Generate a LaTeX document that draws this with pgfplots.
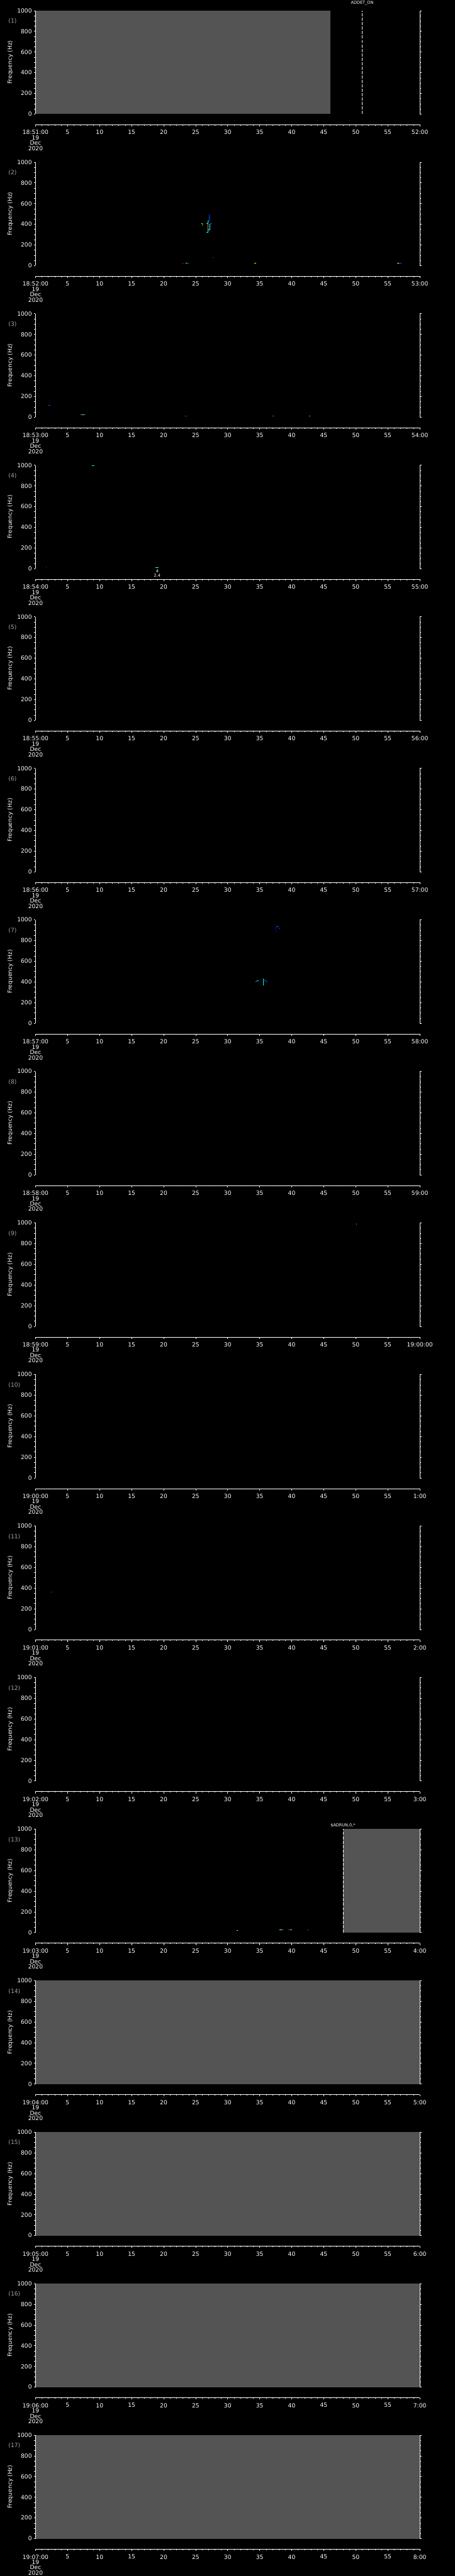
\documentclass[border=0pt]{standalone}
\usepackage{pgfplots}
\pgfplotsset{compat=1.18}
\usepackage{fontspec}
\setmainfont{DejaVu Sans}
\definecolor{sgrey}{RGB}{84,84,84}
\definecolor{lgrey}{RGB}{165,165,165}
\definecolor{jdb}{RGB}{0,0,200}
\definecolor{jb}{RGB}{0,90,255}
\definecolor{jlb}{RGB}{0,170,255}
\definecolor{jc}{RGB}{0,255,240}
\definecolor{jt}{RGB}{0,210,190}
\definecolor{jg}{RGB}{60,255,60}
\definecolor{jyg}{RGB}{200,255,60}
\definecolor{jy}{RGB}{255,240,0}
\definecolor{jo}{RGB}{255,120,0}
\definecolor{jr}{RGB}{230,20,0}
\definecolor{jdr}{RGB}{150,0,0}
\newcommand{\fs}{\fontsize{6.5pt}{6pt}\selectfont}
\newcommand{\sfs}{\fontsize{4.6pt}{5pt}\selectfont}
\pgfplotsset{
 specax/.style={scale only axis, width=432.5pt, height=116.5pt, anchor=north west,
   xmin=0,xmax=60,ymin=0,ymax=1000,
   axis x line=none, axis y line=box,
   axis line style={white, line width=0.5pt},
   xtick=\empty,
   ytick={0,200,400,600,800,1000}, yticklabels={0,200,400,600,800,1000},
   minor y tick num=3,
   tick align=outside, major tick length=1.75pt, minor tick length=1.5pt,
   tick style={white, line width=0.5pt},
   yticklabel pos=left,
   yticklabel style={text=white, font=\fs, inner sep=1pt, xshift=-1.2pt},
   clip mode=individual, axis on top,
 },
 timeax/.style={scale only axis, width=432.5pt, height=10pt, anchor=south west,
   xmin=0,xmax=60,ymin=0,ymax=1,
   axis x line*=bottom, hide y axis,
   axis line style={white, line width=0.5pt},
   xtick={0,5,...,60}, minor x tick num=4,
   tick align=outside, major tick length=2pt, minor tick length=1pt,
   tick style={white, line width=0.5pt},
   xticklabel style={text=white, font=\fs, align=center, inner sep=1pt, yshift=-3pt},
 },
 sp/.style={line width=0.6pt},
}
\newcommand{\timeaxis}[3]{%
 \begin{axis}[timeax, at={(40pt,-#1*170.647pt-140.5pt)},
   xticklabels={{#2\\19\\Dec\\2020},5,10,15,20,25,30,35,40,45,50,55,#3}]
 \end{axis}
 \node[anchor=west, text=lgrey, font=\fs] at (6pt,-#1*170.647pt-24pt) {(\the\numexpr#1+1\relax)};
 \node[rotate=90, text=white, font=\fs] at (11.5pt,-#1*170.647pt-70.25pt) {Frequency (Hz)};
}
\begin{document}
\begin{tikzpicture}
\path[use as bounding box, fill=black] (0,0) rectangle (512pt,-2901pt);
% ---- panel 1
\begin{axis}[specax, at={(40pt,-0*170.647pt-12pt)}]
\addplot[fill=sgrey, draw=none] coordinates {(0,1000) (46,1000)} \closedcycle;
\addplot[white, line width=0.5pt, dash pattern=on 3.5pt off 1.5pt] coordinates {(51,0) (51,1000)};
\node[text=white, font=\sfs] at ([yshift=8.8pt]axis cs:51,1000) {ADDET\_ON};
\end{axis}
\timeaxis{0}{18:51:00}{52:00}
% ---- panel 2
\begin{axis}[specax, at={(40pt,-1*170.647pt-12pt)}]
\addplot[jb, sp] coordinates {(27.15,436) (27.15,490)};
\addplot[jdb, sp] coordinates {(27.12,490) (27.32,490)};
\addplot[jc, sp] coordinates {(26.93,433) (27.12,433)};
\addplot[jc, sp] coordinates {(26.95,320) (26.95,433)};
\addplot[jo, sp] coordinates {(26.88,347) (26.88,404)};
\addplot[jc, sp] coordinates {(26.66,404) (26.93,404)};
\addplot[jc, sp] coordinates {(27.22,346) (27.22,404)};
\addplot[jc, sp] coordinates {(26.95,346) (27.22,346)};
\addplot[jb, sp] coordinates {(27.26,404) (27.54,404)};
\addplot[jdb, sp] coordinates {(27.3,397) (27.45,397)};
\addplot[jyg, sp] coordinates {(25.87,404) (26.08,404)};
\addplot[jg, sp] coordinates {(26.0,396) (26.2,396)};
\addplot[jc, sp] coordinates {(26.7,319) (26.95,319)};
\addplot[jdr, sp] coordinates {(27.58,79) (27.81,79)};
\addplot[jdr, sp] coordinates {(22.82,23) (23.24,23)};
\addplot[jy, sp] coordinates {(23.4,23) (23.55,23)};
\addplot[jc, sp] coordinates {(23.55,23) (23.65,23)};
\addplot[jb, sp] coordinates {(23.65,23) (23.9,23)};
\addplot[jy, sp] coordinates {(34.12,23) (34.48,23)};
\addplot[jy, sp] coordinates {(56.46,23) (56.75,23)};
\addplot[jb, sp] coordinates {(56.75,23) (57.1,23)};
\end{axis}
\timeaxis{1}{18:52:00}{53:00}
% ---- panel 3
\begin{axis}[specax, at={(40pt,-2*170.647pt-12pt)}]
\addplot[jb, sp] coordinates {(1.99,113) (2.27,113)};
\addplot[jr, sp] coordinates {(6.93,26) (7.25,26)};
\addplot[jc, sp] coordinates {(7.25,26) (7.57,26)};
\addplot[jb, sp] coordinates {(7.57,26) (7.8,26)};
\addplot[jb, sp] coordinates {(23.3,12) (23.6,8)};
\addplot[jlb, sp] coordinates {(37.0,13) (37.15,13)};
\addplot[jt, sp] coordinates {(42.73,13) (42.9,13)};
\end{axis}
\timeaxis{2}{18:53:00}{54:00}
% ---- panel 4
\begin{axis}[specax, at={(40pt,-3*170.647pt-12pt)}]
\addplot[jc, sp] coordinates {(8.84,994) (9.15,994)};
\addplot[jb, sp] coordinates {(1.63,16) (1.77,16)};
\addplot[jyg, sp] coordinates {(18.7,11) (18.95,11)};
\addplot[jc, sp] coordinates {(18.95,11) (19.17,11)};
\node[text=white, font=\sfs] at ([yshift=-2.5pt]axis cs:19,0) {4};
\node[text=white, font=\sfs] at ([yshift=-7.5pt]axis cs:19,0) {2.4};
\end{axis}
\timeaxis{3}{18:54:00}{55:00}
% ---- panel 5
\begin{axis}[specax, at={(40pt,-4*170.647pt-12pt)}]
\addplot[draw=none] coordinates {(0,0)};
\end{axis}
\timeaxis{4}{18:55:00}{56:00}
% ---- panel 6
\begin{axis}[specax, at={(40pt,-5*170.647pt-12pt)}]
\addplot[draw=none] coordinates {(0,0)};
\end{axis}
\timeaxis{5}{18:56:00}{57:00}
% ---- panel 7
\begin{axis}[specax, at={(40pt,-6*170.647pt-12pt)}]
\addplot[jdb, sp] coordinates {(37.55,882) (37.55,936)};
\addplot[jb, sp] coordinates {(37.55,936) (38.0,936)};
\addplot[jb, sp] coordinates {(38.12,911) (38.12,923)};
\addplot[jlb, sp] coordinates {(34.35,404) (34.57,404)};
\addplot[jc, sp] coordinates {(34.57,411) (34.85,411)};
\addplot[jc, sp] coordinates {(35.55,367) (35.55,430)};
\addplot[jlb, sp] coordinates {(35.7,416) (35.95,416)};
\addplot[jb, sp] coordinates {(35.95,405) (36.16,405)};
\end{axis}
\timeaxis{6}{18:57:00}{58:00}
% ---- panel 8
\begin{axis}[specax, at={(40pt,-7*170.647pt-12pt)}]
\addplot[draw=none] coordinates {(0,0)};
\end{axis}
\timeaxis{7}{18:58:00}{59:00}
% ---- panel 9
\begin{axis}[specax, at={(40pt,-8*170.647pt-12pt)}]
\addplot[jb, sp] coordinates {(50.13,981) (50.13,997)};
\end{axis}
\timeaxis{8}{18:59:00}{19:00:00}
% ---- panel 10
\begin{axis}[specax, at={(40pt,-9*170.647pt-12pt)}]
\addplot[draw=none] coordinates {(0,0)};
\end{axis}
\timeaxis{9}{19:00:00}{1:00}
% ---- panel 11
\begin{axis}[specax, at={(40pt,-10*170.647pt-12pt)}]
\addplot[jlb, sp] coordinates {(2.4,362) (2.54,362)};
\end{axis}
\timeaxis{10}{19:01:00}{2:00}
% ---- panel 12
\begin{axis}[specax, at={(40pt,-11*170.647pt-12pt)}]
\addplot[draw=none] coordinates {(0,0)};
\end{axis}
\timeaxis{11}{19:02:00}{3:00}
% ---- panel 13
\begin{axis}[specax, at={(40pt,-12*170.647pt-12pt)}]
\addplot[fill=sgrey, draw=none] coordinates {(48,1000) (60,1000)} \closedcycle;
\addplot[white, line width=0.5pt, dash pattern=on 3.5pt off 1.5pt] coordinates {(48,0) (48,1000)};
\node[text=white, font=\sfs] at ([yshift=4.4pt]axis cs:48,1000) {\$ADRUN,0,*};
\addplot[jy, sp] coordinates {(31.4,20) (31.6,20)};
\addplot[jyg, sp] coordinates {(38.06,24) (38.38,24)};
\addplot[jlb, sp] coordinates {(38.38,24) (38.7,24)};
\addplot[jr, sp] coordinates {(39.5,24) (39.7,24)};
\addplot[jc, sp] coordinates {(39.7,24) (40.05,24)};
\addplot[jb, sp] coordinates {(42.36,24) (42.63,24)};
\end{axis}
\timeaxis{12}{19:03:00}{4:00}
% ---- panels 14-17
\begin{axis}[specax, at={(40pt,-13*170.647pt-12pt)}]
\addplot[fill=sgrey, draw=none] coordinates {(0,1000) (60,1000)} \closedcycle;
\end{axis}
\timeaxis{13}{19:04:00}{5:00}
\begin{axis}[specax, at={(40pt,-14*170.647pt-12pt)}]
\addplot[fill=sgrey, draw=none] coordinates {(0,1000) (60,1000)} \closedcycle;
\end{axis}
\timeaxis{14}{19:05:00}{6:00}
\begin{axis}[specax, at={(40pt,-15*170.647pt-12pt)}]
\addplot[fill=sgrey, draw=none] coordinates {(0,1000) (60,1000)} \closedcycle;
\end{axis}
\timeaxis{15}{19:06:00}{7:00}
\begin{axis}[specax, at={(40pt,-16*170.647pt-12pt)}]
\addplot[fill=sgrey, draw=none] coordinates {(0,1000) (60,1000)} \closedcycle;
\end{axis}
\timeaxis{16}{19:07:00}{8:00}
\end{tikzpicture}
\end{document}
